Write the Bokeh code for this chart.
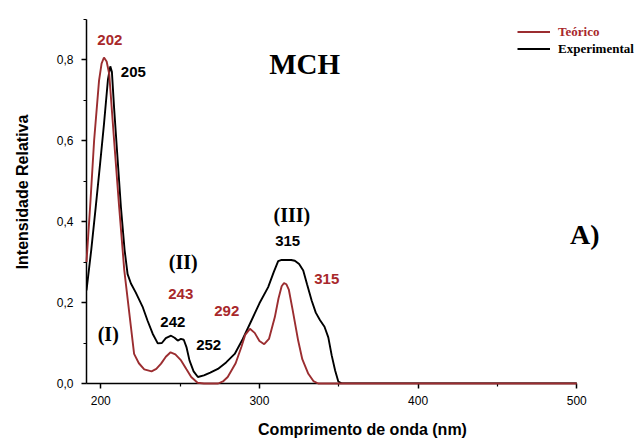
from bokeh.plotting import figure
from bokeh.models import (Range1d, FixedTicker, CustomJSTickFormatter, Label,
                          Legend, LegendItem)
from bokeh.embed import file_html
from bokeh.resources import INLINE

# ---- data ----
teo_x = [191, 193.5, 195.8, 198.9, 200.5, 202, 203.7, 205.3, 208.4, 211.6, 214.8,
         219, 221, 224, 227.4, 232, 235, 238, 241, 244, 247, 250.6, 254, 257,
         261, 265, 274, 277, 280, 285, 288.6, 291, 294, 297, 300, 303, 306,
         309.7, 312, 314, 315.5, 317, 318.5, 321, 324.4, 327, 330.8, 334, 337, 500]
teo_y = [0.30, 0.45, 0.60, 0.748, 0.79, 0.805, 0.795, 0.765, 0.60, 0.435, 0.28,
         0.14, 0.073, 0.05, 0.035, 0.03, 0.036, 0.049, 0.066, 0.077, 0.072, 0.057, 0.035, 0.016,
         0.002, 0.0, 0.0, 0.005, 0.016, 0.05, 0.09, 0.12, 0.135, 0.125, 0.105, 0.097, 0.11,
         0.164, 0.21, 0.24, 0.248, 0.245, 0.232, 0.18, 0.106, 0.06, 0.024, 0.006, 0.0, 0.0]

exp_x = [191, 194, 196.8, 199.5, 202, 204.5, 206, 207, 208.4, 210.5, 212.7, 215,
         216.9, 219, 222, 226.3, 229.5, 232.7, 235.9, 238.5, 241, 244.3, 246.5,
         248.5, 250.5, 252.3, 254, 255.9, 258.5, 261.2, 265, 269, 273.8, 279,
         284.4, 289.5, 294.9, 300, 305.5, 309, 311.8, 314, 320, 322.3, 325, 327.6,
         330, 332.9, 335.5, 338.2, 341, 343.4, 345.5, 347.7, 349.7, 352, 500]
exp_y = [0.23, 0.33, 0.435, 0.54, 0.64, 0.75, 0.783, 0.77, 0.68, 0.56, 0.435, 0.33,
         0.27, 0.247, 0.225, 0.19, 0.155, 0.123, 0.099, 0.10, 0.112, 0.118, 0.113,
         0.106, 0.11, 0.108, 0.09, 0.057, 0.03, 0.016, 0.02, 0.027, 0.036, 0.052,
         0.073, 0.11, 0.155, 0.198, 0.238, 0.275, 0.302, 0.305, 0.305, 0.303, 0.295, 0.279,
         0.245, 0.205, 0.175, 0.156, 0.14, 0.114, 0.07, 0.032, 0.005, 0.0, 0.0]

x_major = [200, 300, 400, 500]
x_minor = [250, 350, 450]
y_major = [0.0, 0.2, 0.4, 0.6, 0.8]
y_minor = [0.1, 0.3, 0.5, 0.7, 0.9]

# peak annotations: (text, x, y, colour-key)
peak_labels = [("202", 205.7, 0.849, "teo"), ("205", 220.5, 0.769, "exp"),
               ("243", 250.4, 0.220, "teo"), ("242", 245.4, 0.152, "exp"),
               ("252", 268.0, 0.096, "exp"), ("292", 279.4, 0.180, "teo"),
               ("315", 317.8, 0.351, "exp"), ("315", 342.4, 0.257, "teo")]
band_labels = [("(I)", 204.7, 0.121), ("(II)", 252.0, 0.301), ("(III)", 320.4, 0.417)]

RED_LINE = "#9b2d30"
RED_TEXT = "#a8282b"

p = figure(frame_width=552, frame_height=383, width=638, height=441,
           min_border_left=86, min_border_right=0, min_border_top=0,
           min_border_bottom=58,
           x_range=Range1d(191, 538.9), y_range=Range1d(0, 0.9457),
           output_backend="svg", toolbar_location=None)
p.outline_line_color = None
p.xgrid.visible = False
p.ygrid.visible = False
p.background_fill_color = "white"

r_exp = p.line(exp_x, exp_y, line_color="black", line_width=1.9)
r_teo = p.line(teo_x, teo_y, line_color=RED_LINE, line_width=1.9, level="overlay")

for ax in (p.xaxis[0], p.yaxis[0]):
    ax.axis_line_width = 1.5
    ax.major_tick_line_width = 1.5
    ax.minor_tick_line_width = 1.2
    ax.major_tick_in = 0
    ax.major_tick_out = 5
    ax.minor_tick_in = 0
    ax.minor_tick_out = 3
    ax.major_label_text_font = "Liberation Sans"
    ax.major_label_text_font_size = "12px"
    ax.major_label_text_color = "black"
    ax.axis_label_text_font = "Liberation Sans"
    ax.axis_label_text_font_style = "bold"
    ax.axis_label_text_font_size = "16px"
    ax.axis_label_text_color = "black"

p.xaxis.bounds = (191, 500)
p.yaxis.bounds = (0, 0.9)
p.xaxis.ticker = FixedTicker(ticks=x_major, minor_ticks=x_minor)
p.yaxis.ticker = FixedTicker(ticks=y_major, minor_ticks=y_minor)
p.yaxis.formatter = CustomJSTickFormatter(code="return tick.toFixed(1).replace('.', ',');")
p.xaxis.axis_label = "Comprimento de onda (nm)"
p.yaxis.axis_label = "Intensidade Relativa"
p.xaxis.major_label_standoff = 7
p.yaxis.major_label_standoff = 8
p.xaxis.axis_label_standoff = 13
p.yaxis.axis_label_standoff = 23

for txt, x, y, key in peak_labels:
    p.add_layout(Label(x=x, y=y, text=txt, text_align="center", text_baseline="middle",
                       text_font="Liberation Sans", text_font_style="bold",
                       text_font_size="15px",
                       text_color=RED_TEXT if key == "teo" else "black"))
for txt, x, y in band_labels:
    p.add_layout(Label(x=x, y=y, text=txt, text_align="center", text_baseline="middle",
                       text_font="Liberation Serif", text_font_style="bold",
                       text_font_size="20px", text_color="black"))
p.add_layout(Label(x=328.5, y=0.788, text="MCH", text_align="center", text_baseline="middle",
                   text_font="Liberation Serif", text_font_style="bold",
                   text_font_size="29px", text_color="black"))
p.add_layout(Label(x=505, y=0.368, text="A)", text_align="center", text_baseline="middle",
                   text_font="Liberation Serif", text_font_style="bold",
                   text_font_size="28px", text_color="black"))

def make_legend(label, renderer, color, loc):
    lg = Legend(items=[LegendItem(label=label, renderers=[renderer])], location=loc,
                padding=0, margin=0, spacing=0, label_standoff=8,
                glyph_width=33, glyph_height=17, label_height=17,
                label_text_font="Liberation Serif", label_text_font_style="bold",
                label_text_font_size="13px", label_text_color=color,
                background_fill_alpha=0, border_line_alpha=0)
    p.add_layout(lg, "center")

make_legend("Teórico", r_teo, RED_TEXT, (431, 343))
make_legend("Experimental", r_exp, "black", (431, 326))

open("out.html", "w").write(file_html(p, INLINE))
